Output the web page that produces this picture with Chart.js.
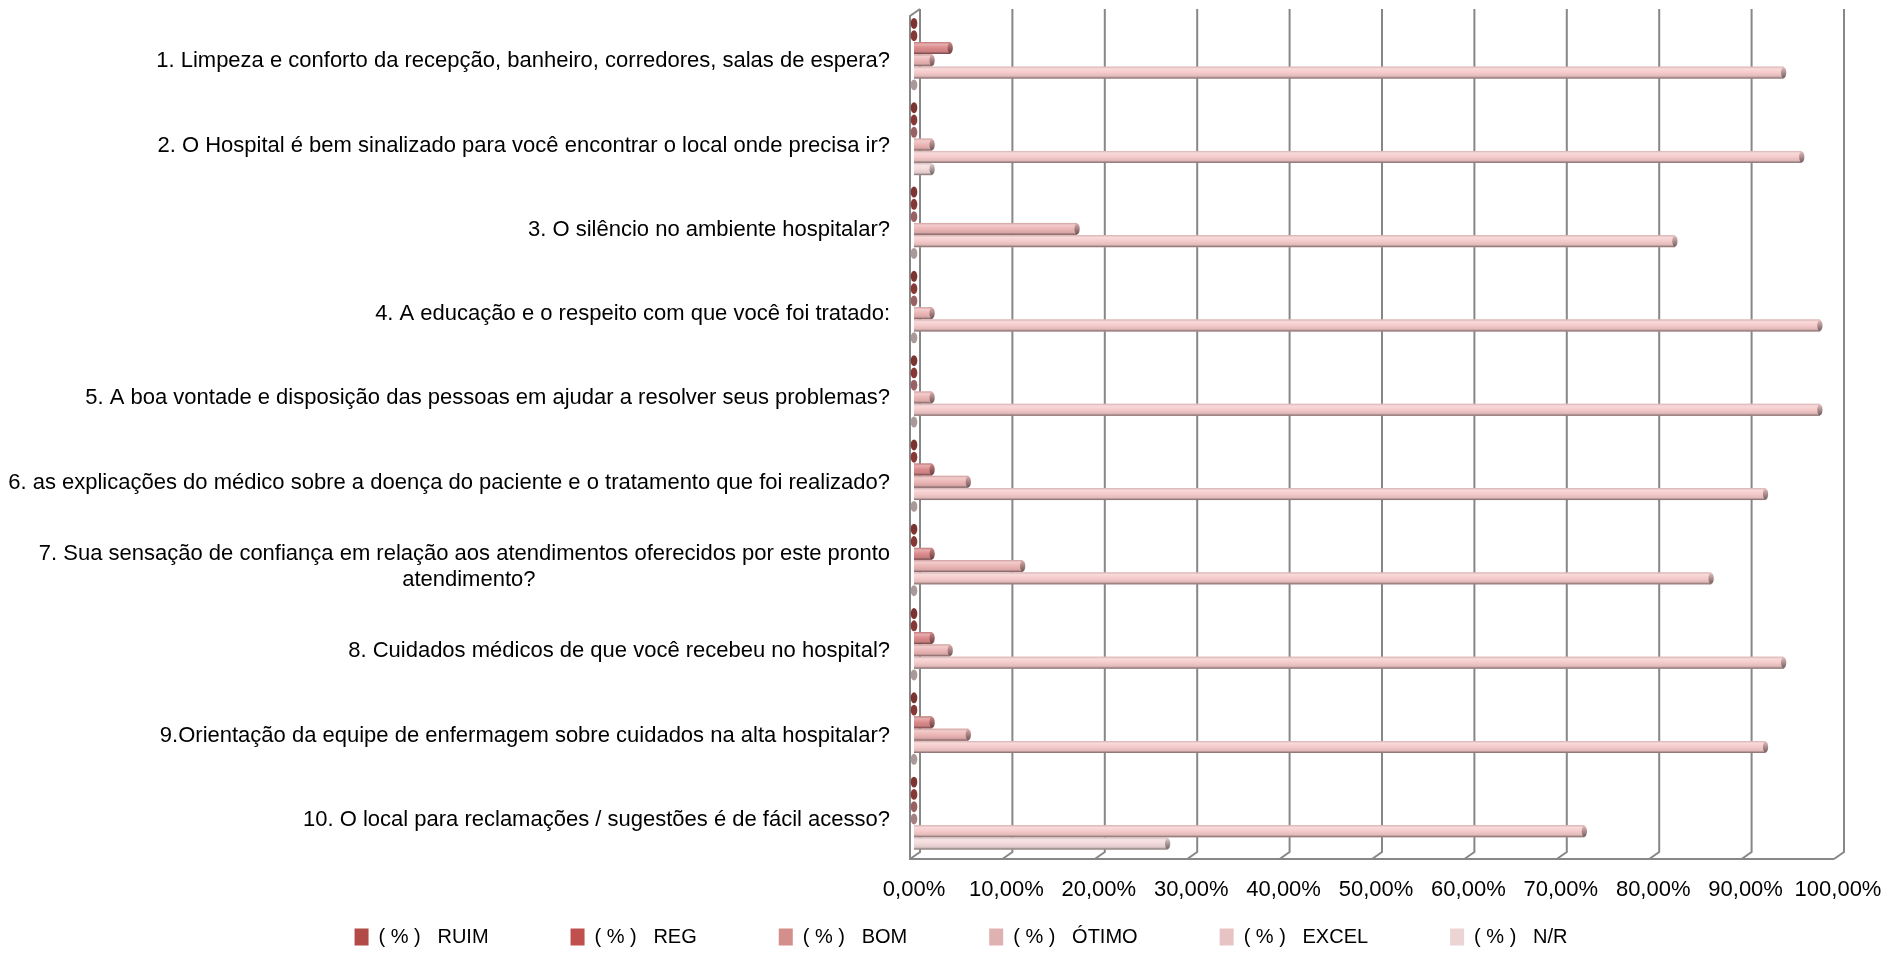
<!DOCTYPE html>
<html>
<head>
<meta charset="utf-8">
<script src="https://cdn.jsdelivr.net/npm/chart.js@4/dist/chart.umd.min.js"></script>
<style>
  html, body { margin: 0; padding: 0; background: #fff; }
  #wrap { width: 1888px; height: 953px; }
</style>
</head>
<body>
<div id="wrap"><canvas id="chart"></canvas></div>
<script>
const categories = [
    '1. Limpeza e conforto da recepção, banheiro, corredores, salas de espera?',
    '2. O Hospital é bem sinalizado para você encontrar o local onde precisa ir?',
    '3. O silêncio no ambiente hospitalar?',
    '4. A educação e o respeito com que você foi tratado:',
    '5. A boa vontade e disposição das pessoas em ajudar a resolver seus problemas?',
    '6. as explicações do médico sobre a doença do paciente e o tratamento que foi realizado?',
    ['7. Sua sensação de confiança em relação aos atendimentos oferecidos por este pronto', 'atendimento?'],
    '8. Cuidados médicos de que você recebeu no hospital?',
    '9.Orientação da equipe de enfermagem sobre cuidados na alta hospitalar?',
    '10. O local para reclamações / sugestões é de fácil acesso?'
];

const seriesNames = ['( % )   RUIM', '( % )   REG', '( % )   BOM', '( % )   ÓTIMO', '( % )   EXCEL', '( % )   N/R'];
// legend swatches and the (lighter, shaded) bar bodies
const seriesColors = ['#b24b48', '#c0504d', '#d48e8c', '#dfb1b0', '#e7c3c3', '#ebd4d3'];
const barColors    = ['#b04a47', '#c0504d', '#db8a8b', '#ecb6b6', '#f5caca', '#f3dada'];

const ruim  = [0, 0, 0, 0, 0, 0, 0, 0, 0, 0];
const reg   = [0, 0, 0, 0, 0, 0, 0, 0, 0, 0];
const bom   = [3.92, 0, 0, 0, 0, 1.96, 1.96, 1.96, 1.96, 0];
const otimo = [1.96, 1.96, 17.65, 1.96, 1.96, 5.88, 11.76, 3.92, 5.88, 0];
const excel = [94.12, 96.08, 82.35, 98.04, 98.04, 92.16, 86.27, 94.12, 92.16, 72.55];
const nr    = [0, 1.96, 0, 0, 0, 0, 0, 0, 0, 27.45];

const xTicks = [0, 10, 20, 30, 40, 50, 60, 70, 80, 90, 100];

// mix a hex colour with white (t>0) or black (t<0)
function shade(hex, t) {
    const n = parseInt(hex.slice(1), 16);
    let r = n >> 16, g = (n >> 8) & 255, b = n & 255;
    const target = t > 0 ? 255 : 0;
    const k = Math.abs(t);
    r = Math.round(r + (target - r) * k);
    g = Math.round(g + (target - g) * k);
    b = Math.round(b + (target - b) * k);
    return `rgb(${r},${g},${b})`;
}

// excel-like 3d walls and gridlines
const wallPlugin = {
    id: 'walls',
    beforeDatasetsDraw(chart) {
        const {ctx, chartArea} = chart;
        const xs = chart.scales.x;
        const back = 6, front = -4;
        const topB = chartArea.top - 3, botB = chartArea.bottom - 3, botF = chartArea.bottom + 4;
        ctx.save();
        ctx.strokeStyle = '#878787';
        ctx.lineWidth = 2;
        xTicks.forEach(v => {
            const px = xs.getPixelForValue(v);
            ctx.beginPath();
            ctx.moveTo(px + back, topB);
            ctx.lineTo(px + back, botB);
            ctx.lineTo(px + front, botF);
            ctx.stroke();
        });
        const x0 = xs.getPixelForValue(0), x1 = xs.getPixelForValue(100);
        ctx.beginPath();
        ctx.moveTo(x0 + back, topB);
        ctx.lineTo(x0 + front, topB + 7);
        ctx.lineTo(x0 + front, botF);
        ctx.lineTo(x1 + front, botF);
        ctx.stroke();
        ctx.restore();
    }
};

// draw bars as shaded cylinders on top of the plain bars
const cylinderPlugin = {
    id: 'cylinders',
    afterDatasetsDraw(chart) {
        const ctx = chart.ctx;
        chart.data.datasets.forEach((ds, di) => {
            const meta = chart.getDatasetMeta(di);
            if (meta.hidden) return;
            const c = barColors[di];
            meta.data.forEach(el => {
                const {x, y, base, height} = el.getProps(['x', 'y', 'base', 'height'], true);
                const h = height, top = y - h / 2;
                let rx = h * 0.22;
                ctx.save();
                if (x - base > 0.5) {
                    const g = ctx.createLinearGradient(0, top, 0, top + h);
                    g.addColorStop(0, shade(c, -0.12));
                    g.addColorStop(0.18, shade(c, 0.3));
                    g.addColorStop(0.5, c);
                    g.addColorStop(0.8, shade(c, -0.08));
                    g.addColorStop(1, shade(c, -0.5));
                    ctx.fillStyle = g;
                    ctx.fillRect(base, top, x - base, h);
                    const cg = ctx.createLinearGradient(0, top, 0, top + h);
                    cg.addColorStop(0, shade(c, -0.05));
                    cg.addColorStop(1, shade(c, -0.55));
                    ctx.fillStyle = cg;
                } else {
                    // zero value: only the end cap shows
                    rx = h * 0.28;
                    ctx.fillStyle = shade(c, -0.3);
                }
                ctx.beginPath();
                ctx.ellipse(x, y, rx, h / 2 - 0.5, 0, 0, Math.PI * 2);
                ctx.fill();
                ctx.restore();
            });
        });
    }
};

// legend row drawn under the axis labels, spaced like the excel original
const legendRow = {
    id: 'legendRow',
    afterDraw(chart) {
        const ctx = chart.ctx;
        const gap = 82, box = 14;
        const y = chart.chartArea.bottom + 82;
        ctx.save();
        ctx.font = '20px "Liberation Sans"';
        ctx.textBaseline = 'middle';
        const items = chart.data.datasets.map(ds => ({text: ds.label, color: ds.backgroundColor, w: ctx.measureText(ds.label).width}));
        const total = items.reduce((s, it) => s + box + 10 + it.w, 0) + gap * (items.length - 1);
        let x = chart.width / 2 + 17 - total / 2;
        items.forEach(it => {
            ctx.fillStyle = it.color;
            ctx.fillRect(x, y - 8.5, box, 17);
            ctx.fillStyle = '#000';
            ctx.fillText(it.text, x + box + 10, y);
            x += box + 10 + it.w + gap;
        });
        ctx.restore();
    }
};

// drop the category labels a little like the 3d original
const labelShift = {
    id: 'labelShift',
    afterLayout(chart) {
        const ys = chart.scales.y;
        if (!ys._shifted) {
            const draw = ys.drawLabels;
            ys.drawLabels = function (area) {
                this.ctx.save();
                this.ctx.translate(0, 7);
                draw.call(this, area);
                this.ctx.restore();
            };
            ys._shifted = true;
        }
    }
};

const allSeries = [ruim, reg, bom, otimo, excel, nr];

new Chart(document.getElementById('chart'), {
    type: 'bar',
    data: {
        labels: categories,
        datasets: allSeries.map((vals, i) => ({
            label: seriesNames[i],
            data: vals,
            backgroundColor: seriesColors[i],
            borderWidth: 0,
            categoryPercentage: 0.875,
            barPercentage: 0.97
        }))
    },
    options: {
        indexAxis: 'y',
        responsive: true,
        maintainAspectRatio: false,
        animation: false,
        layout: { padding: { top: 12, right: 50, bottom: 36, left: 0 } },
        scales: {
            x: {
                min: 0,
                max: 100,
                afterBuildTicks: axis => { axis.ticks = xTicks.map(v => ({value: v})); },
                afterFit: axis => {
                    axis.height = 62;
                    axis.paddingLeft = 0;
                    axis.paddingRight = 0;
                },
                grid: { display: false, drawTicks: false },
                border: { display: false },
                ticks: {
                    padding: 22,
                    color: '#000',
                    font: { family: 'Liberation Sans', size: 22 },
                    maxRotation: 0,
                    autoSkip: false,
                    callback: v => v.toFixed(2).replace('.', ',') + '%'
                }
            },
            y: {
                grid: { display: false, drawTicks: false },
                border: { display: false },
                afterFit: axis => {
                    axis.width = 914;
                    axis.paddingTop = 0;
                    axis.paddingBottom = 0;
                },
                ticks: {
                    padding: 24,
                    color: '#000',
                    font: { family: 'Liberation Sans', size: 22 },
                    autoSkip: false,
                    // wrapped label: keep the second line centred under the first
                    callback: function (value) {
                        const l = this.getLabelForValue(value);
                        return Array.isArray(l) ? [l[0], l[1] + ' '.repeat(58)] : l;
                    }
                }
            }
        },
        plugins: {
            legend: { display: false },
            tooltip: { enabled: false }
        }
    },
    plugins: [wallPlugin, cylinderPlugin, labelShift, legendRow]
});
</script>
</body>
</html>
